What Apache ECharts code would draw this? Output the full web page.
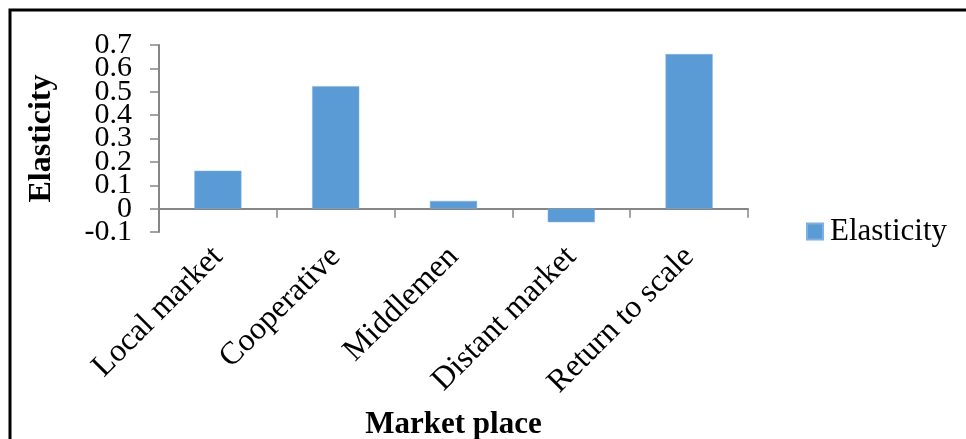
<!DOCTYPE html>
<html>
<head>
<meta charset="utf-8">
<script src="https://cdn.jsdelivr.net/npm/echarts@6/dist/echarts.min.js"></script>
<style>
html,body{margin:0;padding:0;background:#fff;}
#chart{width:966px;height:439px;}
</style>
</head>
<body>
<div id="chart"></div>
<script>
const categories = ["Local market", "Cooperative", "Middlemen", "Distant market", "Return to scale"];
const elasticity = [0.162, 0.524, 0.033, -0.058, 0.661];
const seriesName = "Elasticity";
const xTitle = "Market place";
const yTitle = "Elasticity";
const yMin = -0.1, yMax = 0.7, yStep = 0.1;
const yTicksOdd = [-0.1, 0.1, 0.3, 0.5, 0.7];
const yTicksEven = [0, 0.2, 0.4, 0.6];

const font = '"Liberation Serif", "Times New Roman", serif';
const axisGray = '#868686';
const fmt = v => String(Number(Number(v).toFixed(1)));
const yLabel = (vals) => ({
  margin: 27, fontFamily: font, fontSize: 30, color: '#000',
  showMinLabel: true, showMaxLabel: true, hideOverlap: false,
  customValues: vals,
  formatter: fmt
});
const chart = echarts.init(document.getElementById('chart'), null, {renderer: 'canvas'});
chart.setOption({
  backgroundColor: '#ffffff',
  animation: false,
  graphic: [{
    type: 'rect',
    shape: {x: 10, y: 10, width: 2000, height: 2000},
    style: {fill: 'none', stroke: '#000', lineWidth: 3},
    silent: true
  }],
  grid: {left: 159, top: 45, right: 218, bottom: 207, containLabel: false, outerBoundsMode: 'none'},
  legend: {
    data: [seriesName],
    left: 806, top: 216, padding: 0,
    itemWidth: 16, itemHeight: 16,
    icon: 'rect',
    textStyle: {fontFamily: font, fontSize: 31, color: '#000', padding: [0,0,0,2]}
  },
  xAxis: {
    type: 'category',
    data: categories,
    name: xTitle,
    nameLocation: 'middle',
    nameGap: 177,
    nameMoveOverlap: false,
    nameTextStyle: {fontFamily: font, fontSize: 31, fontWeight: 'bold', color: '#000'},
    axisLine: {onZero: true, onZeroAxisIndex: 0, lineStyle: {color: axisGray, width: 2}},
    axisTick: {show: true, length: 9, lineStyle: {color: axisGray, width: 1.5}},
    axisLabel: {rotate: 45, margin: 20, fontFamily: font, fontSize: 32, color: '#000', interval: 0, hideOverlap: false},
    splitLine: {show: false}
  },
  yAxis: [{
    type: 'value',
    position: 'left',
    min: yMin, max: yMax, interval: yStep,
    name: yTitle,
    nameLocation: 'middle',
    nameGap: 101,
    nameTextStyle: {fontFamily: font, fontSize: 32, fontWeight: 'bold', color: '#000'},
    axisLine: {show: true, onZero: false, lineStyle: {color: axisGray, width: 2}},
    axisTick: {show: true, length: 9, lineStyle: {color: axisGray, width: 1.5}},
    axisLabel: yLabel(yTicksOdd),
    splitLine: {show: false}
  }, {
    type: 'value',
    position: 'left',
    offset: 0,
    min: yMin, max: yMax, interval: yStep,
    axisLine: {show: false, onZero: false},
    axisTick: {show: false},
    axisLabel: yLabel(yTicksEven),
    splitLine: {show: false}
  }],
  series: [{
    name: seriesName,
    type: 'bar',
    yAxisIndex: 0,
    data: elasticity,
    barWidth: '40%',
    itemStyle: {color: '#5B9BD5', borderColor: '#7fb0e0', borderWidth: 0.5}
  }]
});
</script>
</body>
</html>
